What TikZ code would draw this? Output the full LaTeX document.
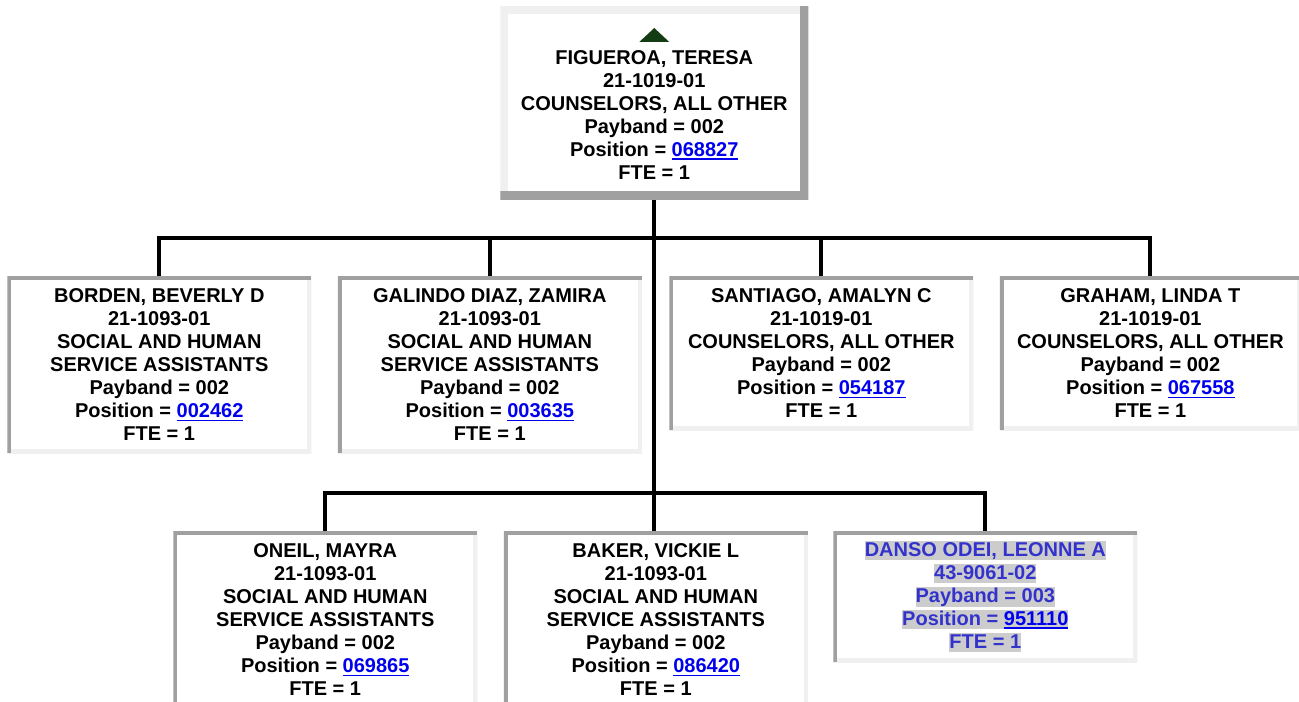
\documentclass[tikz,border=0pt]{standalone}
\usepackage{fontspec}
\setmainfont{Liberation Sans}
\usetikzlibrary{positioning}
\definecolor{cEdgeDk}{HTML}{A0A0A0}
\definecolor{cEdgeLt}{HTML}{F0F0F0}
\definecolor{cLink}{HTML}{0000EE}
\definecolor{cVacant}{HTML}{3333CC}
\definecolor{cMark}{HTML}{CCCCCC}
\definecolor{cUp}{HTML}{143C14}
\newcommand{\poslink}[1]{\textcolor{cLink}{\setbox0\hbox{#1}\rlap{\rule[-2.6pt]{\wd0}{1.1pt}}\box0}}
\newcommand{\hilite}[1]{{\setlength{\fboxsep}{0pt}\colorbox{cMark}{\rule[-3pt]{0pt}{14.5pt}#1}}}

\begin{document}
\begin{tikzpicture}[
    x=0.75pt, y=-0.75pt,
    font=\fontsize{15}{17.25}\selectfont\bfseries,
    emp/.style={fill=white, align=center, inner sep=0pt, minimum width=228pt, minimum height=132.75pt, anchor=north west,
        path picture={
            \draw[line width=6pt, draw=cEdgeLt] (path picture bounding box.south west) -| (path picture bounding box.north east);
            \draw[line width=6pt, draw=cEdgeDk] (path picture bounding box.south west) |- (path picture bounding box.north east);
        }},
    boss/.style={fill=white, align=center, inner sep=0pt, minimum width=231pt, minimum height=144.75pt, anchor=north west,
        path picture={
            \draw[line width=12pt, draw=cEdgeLt] (path picture bounding box.south west) |- (path picture bounding box.north east);
            \draw[line width=12pt, draw=cEdgeDk] (path picture bounding box.south west) -| (path picture bounding box.north east);
        }},
    wire/.style={line width=3pt, draw=black}
]
\clip (0,0) rectangle (1299,702);
\fill[white] (0,0) rectangle (1299,702);

\node[boss] (teresa) at (500,6) {\rule{0pt}{11pt}\\FIGUEROA, TERESA\\21-1019-01\\COUNSELORS, ALL OTHER\\Payband = 002\\Position = \poslink{068827}\\FTE = 1};
\fill[cUp] ([shift={(-15,36)}]teresa.north) -- ([shift={(15,36)}]teresa.north) -- ([shift={(0,22)}]teresa.north) -- cycle;

% first row
\node[emp] (beverly) at (7,276) {BORDEN, BEVERLY D\\21-1093-01\\SOCIAL AND HUMAN\\SERVICE ASSISTANTS\\Payband = 002\\Position = \poslink{002462}\\FTE = 1};
\node[emp, right=19.5pt of beverly.north east, anchor=north west] (zamira) {GALINDO DIAZ, ZAMIRA\\21-1093-01\\SOCIAL AND HUMAN\\SERVICE ASSISTANTS\\Payband = 002\\Position = \poslink{003635}\\FTE = 1};
\node[emp, minimum height=115.5pt, right=20.25pt of zamira.north east, anchor=north west] (amalyn) {SANTIAGO, AMALYN C\\21-1019-01\\COUNSELORS, ALL OTHER\\Payband = 002\\Position = \poslink{054187}\\FTE = 1};
\node[emp, minimum height=115.5pt, minimum width=225.75pt, right=19.5pt of amalyn.north east, anchor=north west] (linda) {GRAHAM, LINDA T\\21-1019-01\\COUNSELORS, ALL OTHER\\Payband = 002\\Position = \poslink{067558}\\FTE = 1};

% second row
\node[emp] (mayra) at (173,531) {ONEIL, MAYRA\\21-1093-01\\SOCIAL AND HUMAN\\SERVICE ASSISTANTS\\Payband = 002\\Position = \poslink{069865}\\FTE = 1};
\node[emp, right=19.5pt of mayra.north east, anchor=north west] (vickie) {BAKER, VICKIE L\\21-1093-01\\SOCIAL AND HUMAN\\SERVICE ASSISTANTS\\Payband = 002\\Position = \poslink{086420}\\FTE = 1};
\node[emp, minimum height=98.25pt, text=cVacant, right=18.75pt of vickie.north east, anchor=north west] (leonne) {\hilite{DANSO ODEI, LEONNE A}\\\hilite{43-9061-02}\\\hilite{Payband = 003}\\\hilite{Position = \poslink{951110}}\\\hilite{FTE = 1}};

\coordinate (bus1) at (654,238);
\coordinate (bus2) at (654,493);
\draw[wire] (teresa.south) -- (teresa.south |- vickie.north);
\draw[wire] (beverly.north) |- (bus1) -| (linda.north);
\draw[wire] (zamira.north) -- (zamira.north |- bus1);
\draw[wire] (amalyn.north) -- (amalyn.north |- bus1);
\draw[wire] (mayra.north) |- (bus2) -| (leonne.north);

\end{tikzpicture}
\end{document}
